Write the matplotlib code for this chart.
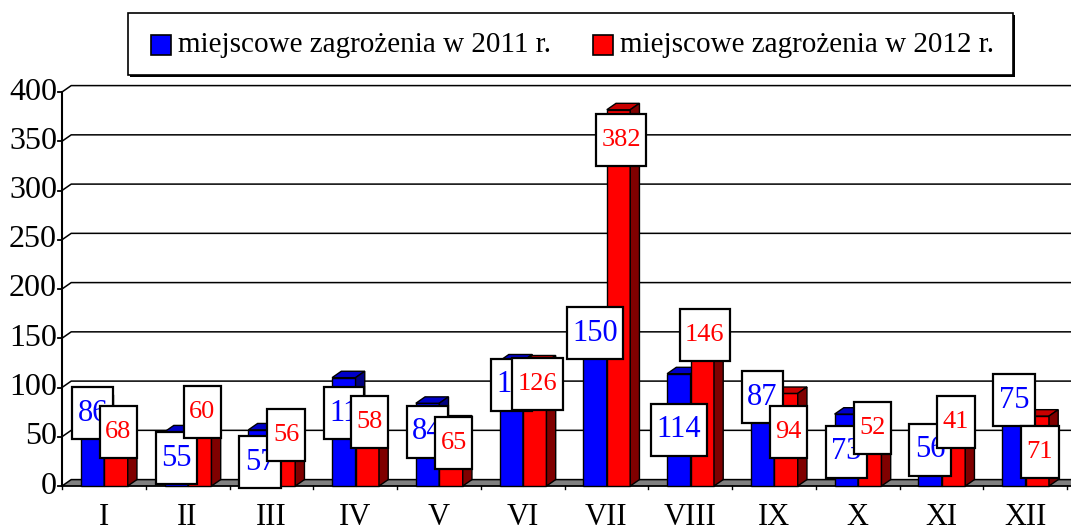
import matplotlib
matplotlib.use("Agg")
import matplotlib.pyplot as plt
from matplotlib.patches import Polygon, Rectangle
import numpy as np

plt.rcParams['font.family'] = ['Liberation Serif', 'DejaVu Serif']

months = ["I", "II", "III", "IV", "V", "VI", "VII", "VIII", "IX", "X", "XI", "XII"]
vals_2011 = [86, 55, 57, 110, 84, 127, 150, 114, 87, 73, 56, 75]
vals_2012 = [68, 60, 56, 58, 65, 126, 382, 146, 94, 52, 41, 71]
label_2011 = ["86", "55", "57", "11", "84", "12", "150", "114", "87", "73", "56", "75"]
label_2012 = ["68", "60", "56", "58", "65", "126", "382", "146", "94", "52", "41", "71"]
series_names = ["miejscowe zagrożenia w 2011 r.", "miejscowe zagrożenia w 2012 r."]
yticks = [0, 50, 100, 150, 200, 250, 300, 350, 400]

# layout: label vertical offsets (value units) mimicking the reference's placement
off_2011 = [-12, -27, -33, -36, -29, -24, 5, -57, 3, -38, -19, 12]
off_2012 = [-13, 15, -4, 7, -21, -22, -31, 7, -39, 7, 24, -36]

W, H = 1071, 532
fig = plt.figure(figsize=(W / 100, H / 100), dpi=100)
ax_left, ax_right, ax_bot, ax_top = 62, 1067, 486, 92
ax = fig.add_axes([ax_left / W, 1 - ax_bot / H, (ax_right - ax_left) / W, (ax_bot - ax_top) / H])
ax.set_xlim(-0.5, 11.5)
ax.set_ylim(0, 400)
for s in ax.spines.values():
    s.set_visible(False)
ax.set_xticks([])
ax.set_yticks([])

dx, dy = 0.11, 6.5
x = np.arange(len(months))

# floor
ax.add_patch(Polygon([(-0.5, 0), (11.5 + dx, 0), (11.5 + dx, dy), (-0.5 + dx, dy)],
                     closed=True, facecolor="#808080", edgecolor="none", zorder=1, clip_on=False))
# gridlines with slanted wall links
for t in yticks:
    ax.plot([-0.5, -0.5 + dx, 11.5 + 0.3], [t, t + dy, t + dy], color="black", lw=1.1,
            zorder=1.5, clip_on=False, solid_joinstyle="miter")
    ax.plot([-0.5 - 0.045, -0.5], [t, t], color="black", lw=1.3, clip_on=False, zorder=2)
    ax.text(-0.5 - 0.06, t, str(t), ha="right", va="center", fontsize=23, clip_on=False)
# axis lines
ax.plot([-0.5, -0.5], [0, 400], color="black", lw=1.5, clip_on=False, zorder=2)
ax.plot([-0.5, 11.5 + dx], [0, 0], color="black", lw=1.3, clip_on=False, zorder=2)
for b in np.arange(-0.5, 12.0, 1.0):
    ax.plot([b, b], [0, -3], color="black", lw=1, clip_on=False, zorder=2)

def bar3d(x0, w, v, front, top, side):
    ax.add_patch(Rectangle((x0, 0), w, v, facecolor=front, edgecolor="black", lw=1, zorder=3, clip_on=False))
    ax.add_patch(Polygon([(x0, v), (x0 + w, v), (x0 + w + dx, v + dy), (x0 + dx, v + dy)], closed=True,
                         facecolor=top, edgecolor="black", lw=1, zorder=3, clip_on=False))
    ax.add_patch(Polygon([(x0 + w, 0), (x0 + w + dx, dy), (x0 + w + dx, v + dy), (x0 + w, v)], closed=True,
                         facecolor=side, edgecolor="black", lw=1, zorder=3, clip_on=False))

bw = 0.28
for i in x:
    bar3d(i - 0.275, bw, vals_2011[i], "#0000FF", "#0000C8", "#000080")
    bar3d(i + 0.005, bw, vals_2012[i], "#FF0000", "#C80000", "#800000")

fig.canvas.draw()
renderer = fig.canvas.get_renderer()

def boxed_label(xc, yc, s, color, fs, z):
    t = ax.text(xc, yc, s, ha="center", va="center", fontsize=fs, color=color, zorder=z + 0.5, clip_on=False)
    bb = t.get_window_extent(renderer)
    wpx = bb.width + 11
    hpx = 52
    cx, cy = ax.transData.transform((xc, yc))
    p0 = ax.transData.inverted().transform((cx - wpx / 2, cy - hpx / 2))
    p1 = ax.transData.inverted().transform((cx + wpx / 2, cy + hpx / 2))
    ax.add_patch(Rectangle(p0, p1[0] - p0[0], p1[1] - p0[1], facecolor="white", edgecolor="black",
                           lw=1.6, zorder=z, clip_on=False))

for i in x:
    boxed_label(i - 0.275 + bw / 2, vals_2011[i] + off_2011[i], label_2011[i], "#0000FF", 22, 5)
for i in x:
    boxed_label(i + 0.005 + bw / 2 + 0.03, vals_2012[i] + off_2012[i], label_2012[i], "#FF0000", 19, 6)

for i in x:
    ax.text(i, -17, months[i], ha="center", va="top", fontsize=22, clip_on=False)

# legend
def px(xp, yp):
    return xp / W, 1 - yp / H
lx0, ly0, lx1, ly1 = 128, 13, 1013, 75
fig.patches.append(Rectangle(px(lx0 + 2, ly1 + 2), (lx1 - lx0) / W, (ly1 - ly0) / H,
                             transform=fig.transFigure, facecolor="black", edgecolor="none", zorder=0))
fig.patches.append(Rectangle(px(lx0, ly1), (lx1 - lx0) / W, (ly1 - ly0) / H, transform=fig.transFigure,
                             facecolor="white", edgecolor="black", lw=1.2, zorder=1))
for (sx, col, name) in [(151, "#0000FF", series_names[0]), (593, "#FF0000", series_names[1])]:
    fig.patches.append(Rectangle(px(sx, 55), 20 / W, 20 / H, transform=fig.transFigure,
                                 facecolor=col, edgecolor="black", lw=1.2, zorder=2))
    fig.text(*px(sx + 27, 45), name, ha="left", va="center", fontsize=21, zorder=3)

fig.savefig("out.png", dpi=100)
